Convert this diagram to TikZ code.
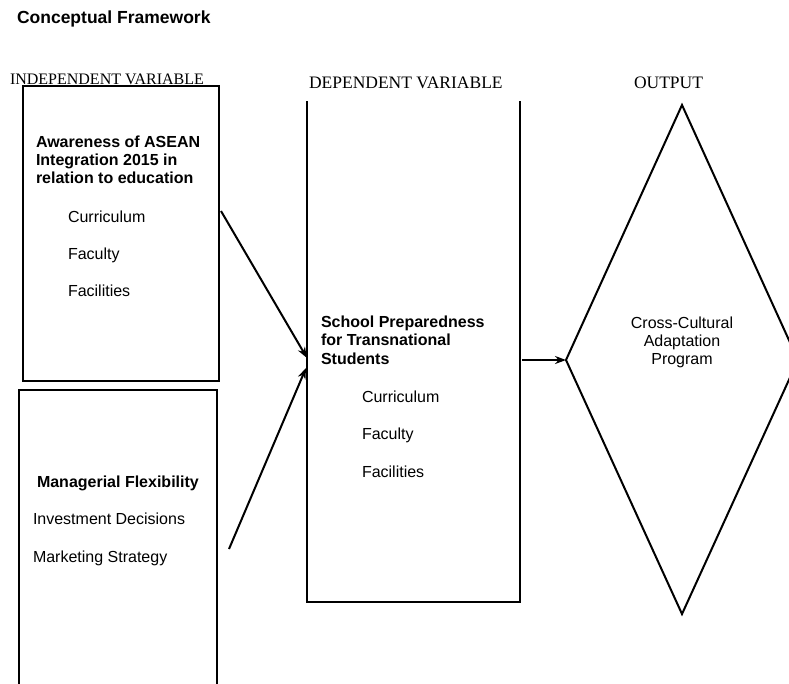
\documentclass[tikz,border=0pt]{standalone}
\usepackage{fontspec}
\setmainfont{Liberation Serif}
\newfontfamily\arialfont{Liberation Sans}
\usetikzlibrary{arrows.meta}
\begin{document}
\begin{tikzpicture}[>={Stealth[length=11pt,width=8pt]},x=1pt,y=-1pt,line width=2pt,
	txt/.style={anchor=base west,inner sep=0pt,font=\arialfont\fontsize{16}{18}\selectfont},
	hd/.style={txt,font=\arialfont\bfseries\fontsize{16}{18}\selectfont},
	var/.style={anchor=base west,inner sep=0pt,font=\fontsize{17.5}{20}\selectfont}]
		\useasboundingbox (0,0) rectangle (789,683);
		\clip (0,0) rectangle (789,683);
		% headings
		\node[hd,font=\arialfont\bfseries\fontsize{17.5}{20}\selectfont] (title) at (16,23) {Conceptual Framework};
		\node[var,font=\fontsize{16}{18}\selectfont] (indep) at (9,84) {INDEPENDENT VARIABLE};
		\node[var] (dep) at (308,88) {DEPENDENT VARIABLE};
		\node[var] (out) at (633,88) {OUTPUT};
		% boxes
		\draw (23,86) rectangle (219,381);
		\draw (19,695)--(19,390)--(217,390)--(217,695);
		\draw (307,101)--(307,602)--(520,602)--(520,101);
		\draw (682,105)coordinate(dt)--(798,360)coordinate(dr)--(682,614)coordinate(db)--(566,360)coordinate(dl)--cycle;
		% awareness box
		\foreach \t [count=\i from 0] in {Awareness of ASEAN,Integration 2015 in,relation to education}
		\node[hd] (aw\i) at (35,{147+18*\i}) {\t};
		\foreach \t [count=\i from 0] in {Curriculum,Faculty,Facilities}
		\node[txt] (awit\i) at (67,{222+37*\i}) {\t};
		% managerial box
		\node[hd] (mf) at (36,487) {Managerial Flexibility};
		\node[txt] (mfit0) at (32,524) {Investment Decisions};
		\node[txt] (mfit1) at (32,562) {Marketing Strategy};
		% preparedness box
		\foreach \t [count=\i from 0] in {School Preparedness,for Transnational,Students}
		\node[hd] (sp\i) at (320,{327+18.5*\i}) {\t};
		\foreach \t [count=\i from 0] in {Curriculum,Faculty,Facilities}
		\node[txt] (spit\i) at (361,{402+37.5*\i}) {\t};
		% output
		\foreach \t [count=\i from 0] in {Cross-Cultural,Adaptation,Program}
		\node[txt,anchor=base] (cc\i) at (682,{328+18*\i}) {\t};
		% arrows
		\coordinate (a1s) at (221,211);
		\coordinate (a1e) at (307,358);
		\coordinate (a2s) at (229,549);
		\coordinate (a2e) at (306,368);
		\coordinate (a3s) at (522,360);
		\draw[->] (a1s)--(a1e);
		\draw[->] (a2s)--(a2e);
		\draw[->] (a3s)--(dl);
\end{tikzpicture}
\end{document}
